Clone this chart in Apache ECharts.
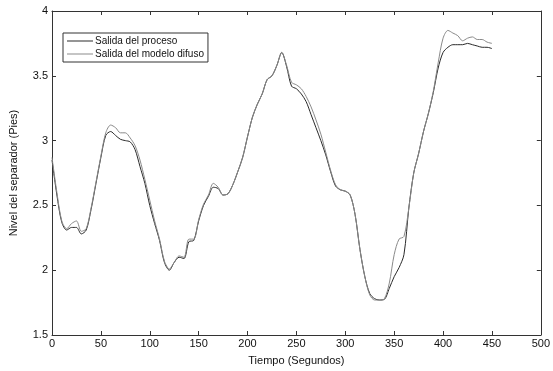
<!DOCTYPE html>
<html>
<head>
<meta charset="utf-8">
<script src="https://cdn.jsdelivr.net/npm/echarts@6/dist/echarts.min.js"></script>
<style>
  html, body { margin: 0; padding: 0; background: #fff; }
  #chart { width: 553px; height: 371px; }
</style>
</head>
<body>
<div id="chart"></div>
<script>
// Sample times (seconds), every 5 s
const tiempo = [];
for (let t = 0; t <= 450; t += 5) tiempo.push(t);

// Measured separator level (feet)
const salidaProceso = [
  2.85, 2.58, 2.37, 2.31, 2.33, 2.33, 2.28, 2.31, 2.47, 2.67,
  2.87, 3.04, 3.07, 3.04, 3.01, 3.00, 2.99, 2.93, 2.80, 2.67,
  2.50, 2.36, 2.23, 2.06, 2.00, 2.06, 2.10, 2.09, 2.22, 2.23,
  2.38, 2.50, 2.57, 2.64, 2.63, 2.58, 2.59, 2.66, 2.76, 2.87,
  3.03, 3.18, 3.28, 3.36, 3.47, 3.50, 3.58, 3.68, 3.57, 3.42,
  3.40, 3.36, 3.30, 3.20, 3.10, 3.00, 2.89, 2.76, 2.65, 2.62,
  2.61, 2.58, 2.43, 2.16, 1.95, 1.82, 1.78, 1.77, 1.775, 1.86,
  1.95, 2.02, 2.12, 2.48, 2.75, 2.90, 3.07, 3.21, 3.37, 3.56,
  3.68, 3.72, 3.74, 3.74, 3.74, 3.75, 3.74, 3.73, 3.72, 3.72,
  3.71
];

// Fuzzy model output (feet)
const salidaModelo = [
  2.87, 2.60, 2.38, 2.32, 2.36, 2.38, 2.30, 2.32, 2.48, 2.68,
  2.88, 3.06, 3.12, 3.10, 3.06, 3.06, 3.02, 2.96, 2.85, 2.70,
  2.54, 2.38, 2.24, 2.07, 2.01, 2.06, 2.11, 2.10, 2.24, 2.24,
  2.39, 2.51, 2.58, 2.67, 2.64, 2.58, 2.59, 2.66, 2.76, 2.87,
  3.03, 3.18, 3.28, 3.36, 3.47, 3.50, 3.58, 3.68, 3.58, 3.45,
  3.43, 3.40, 3.34, 3.26, 3.16, 3.05, 2.91, 2.77, 2.66, 2.62,
  2.61, 2.58, 2.43, 2.16, 1.95, 1.81, 1.77, 1.77, 1.78, 1.90,
  2.12, 2.24, 2.26, 2.48, 2.75, 2.90, 3.07, 3.21, 3.38, 3.60,
  3.79, 3.85, 3.83, 3.81, 3.77, 3.79, 3.80, 3.78, 3.78, 3.76,
  3.75
];

const nombres = ['Salida del proceso', 'Salida del modelo difuso'];
const colores = ['#2a2a2a', '#8a8a8a'];

const pares = (vals) => tiempo.map((t, i) => [t, vals[i]]);

const FONT = 'Liberation Sans, Arial, sans-serif';
const axisLineStyle = { color: '#333', width: 1 };

const chart = echarts.init(document.getElementById('chart'), null, { renderer: 'canvas' });
chart.setOption({
  animation: false,
  backgroundColor: '#fff',
  grid: { left: 51, top: 11, right: 9, bottom: 36, containLabel: false },
  legend: {
    orient: 'vertical',
    left: 63,
    top: 33,
    padding: [2, 4, 2, 4],
    itemGap: 1,
    itemWidth: 26,
    itemHeight: 1,
    icon: 'rect',
    backgroundColor: '#fff',
    borderColor: '#333',
    borderWidth: 1,
    borderRadius: 0,
    textStyle: { fontFamily: FONT, fontSize: 10, color: '#111', padding: [0, 0, 0, -3], lineHeight: 12 },
    data: nombres
  },
  xAxis: [
    {
      type: 'value', min: 0, max: 500, interval: 50,
      name: 'Tiempo (Segundos)', nameLocation: 'middle', nameGap: 20,
      nameTextStyle: { fontFamily: FONT, fontSize: 11, color: '#111' },
      axisLine: { show: true, onZero: false, lineStyle: axisLineStyle },
      axisTick: { show: true, inside: true, length: 4, lineStyle: axisLineStyle },
      axisLabel: { fontFamily: FONT, fontSize: 11, color: '#111', margin: 3 },
      splitLine: { show: false }
    },
    {
      type: 'value', min: 0, max: 500, interval: 50, position: 'top',
      axisLine: { show: true, onZero: false, lineStyle: axisLineStyle },
      axisTick: { show: true, inside: true, length: 4, lineStyle: axisLineStyle },
      axisLabel: { show: false },
      splitLine: { show: false }
    }
  ],
  yAxis: [
    {
      type: 'value', min: 1.5, max: 4, interval: 0.5,
      name: 'Nivel del separador (Pies)', nameLocation: 'middle', nameGap: 33,
      nameTextStyle: { fontFamily: FONT, fontSize: 11, color: '#111' },
      axisLine: { show: true, onZero: false, lineStyle: axisLineStyle },
      axisTick: { show: true, inside: true, length: 4, lineStyle: axisLineStyle },
      axisLabel: { fontFamily: FONT, fontSize: 11, color: '#111', margin: 4 },
      splitLine: { show: false }
    },
    {
      type: 'value', min: 1.5, max: 4, interval: 0.5, position: 'right',
      axisLine: { show: true, onZero: false, lineStyle: axisLineStyle },
      axisTick: { show: true, inside: true, length: 4, lineStyle: axisLineStyle },
      axisLabel: { show: false },
      splitLine: { show: false }
    }
  ],
  series: [
    {
      name: nombres[0], type: 'line', data: pares(salidaProceso),
      symbol: 'none', smooth: 0.3,
      lineStyle: { color: colores[0], width: 1 },
      itemStyle: { color: colores[0] }
    },
    {
      name: nombres[1], type: 'line', data: pares(salidaModelo),
      symbol: 'none', smooth: 0.3,
      lineStyle: { color: colores[1], width: 1 },
      itemStyle: { color: colores[1] }
    }
  ]
});
</script>
</body>
</html>
